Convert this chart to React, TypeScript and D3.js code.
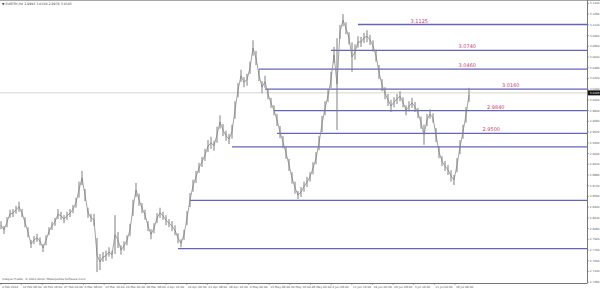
import React from "react";
import * as d3 from "d3";

// H4 bars sampled across the chart (high / low, EURTRY)
const highs = [
  2.819, 2.812, 2.825, 2.836, 2.837, 2.842, 2.848, 2.837, 2.825, 2.810,
  2.791, 2.797, 2.800, 2.795, 2.785, 2.798, 2.810, 2.818, 2.824, 2.837,
  2.833, 2.828, 2.833, 2.837, 2.843, 2.854, 2.878, 2.894, 2.867, 2.839,
  2.830, 2.830, 2.794, 2.770, 2.773, 2.775, 2.780, 2.775, 2.828, 2.803,
  2.783, 2.789, 2.798, 2.815, 2.851, 2.876, 2.860, 2.846, 2.836, 2.819,
  2.807, 2.816, 2.831, 2.839, 2.833, 2.828, 2.822, 2.819, 2.813, 2.801,
  2.792, 2.806, 2.834, 2.861, 2.881, 2.894, 2.906, 2.915, 2.927, 2.940,
  2.945, 2.939, 2.960, 2.977, 2.964, 2.954, 2.949, 2.963, 2.998, 3.025,
  3.045, 3.034, 3.039, 3.057, 3.089, 3.073, 3.046, 3.028, 3.036, 3.016,
  3.003, 2.992, 2.979, 2.961, 2.946, 2.930, 2.912, 2.892, 2.878, 2.864,
  2.870, 2.878, 2.885, 2.892, 2.907, 2.922, 2.946, 2.976, 2.998, 3.015,
  3.042, 3.079, 3.092, 3.112, 3.128, 3.116, 3.101, 3.086, 3.083, 3.095,
  3.094, 3.100, 3.104, 3.097, 3.089, 3.075, 3.052, 3.031, 3.019, 3.009,
  3.000, 3.004, 3.009, 3.013, 3.004, 2.992, 2.998, 3.003, 2.997, 2.988,
  2.975, 2.963, 2.979, 2.986, 2.980, 2.958, 2.931, 2.916, 2.909, 2.903,
  2.895, 2.888, 2.913, 2.940, 2.963, 2.989, 3.018,
];
const lows = [
  2.807, 2.800, 2.810, 2.824, 2.825, 2.830, 2.833, 2.825, 2.810, 2.795,
  2.779, 2.785, 2.788, 2.783, 2.773, 2.783, 2.798, 2.806, 2.812, 2.822,
  2.821, 2.816, 2.821, 2.825, 2.831, 2.839, 2.854, 2.873, 2.849, 2.824,
  2.818, 2.812, 2.743, 2.746, 2.758, 2.760, 2.766, 2.763, 2.770, 2.779,
  2.769, 2.775, 2.783, 2.797, 2.827, 2.855, 2.842, 2.831, 2.821, 2.804,
  2.792, 2.801, 2.816, 2.824, 2.821, 2.813, 2.810, 2.804, 2.798, 2.786,
  2.780, 2.791, 2.813, 2.840, 2.863, 2.876, 2.891, 2.900, 2.909, 2.922,
  2.927, 2.924, 2.936, 2.957, 2.946, 2.939, 2.934, 2.942, 2.972, 3.004,
  3.027, 3.019, 3.021, 3.039, 3.066, 3.052, 3.028, 3.010, 3.018, 3.001,
  2.988, 2.977, 2.961, 2.943, 2.928, 2.912, 2.894, 2.875, 2.860, 2.852,
  2.855, 2.863, 2.870, 2.878, 2.889, 2.904, 2.925, 2.952, 2.977, 2.997,
  3.018, 3.055, 2.955, 3.091, 3.110, 3.098, 3.083, 3.042, 3.060, 3.078,
  3.079, 3.085, 3.086, 3.082, 3.072, 3.057, 3.031, 3.013, 3.001, 2.991,
  2.982, 2.989, 2.994, 2.998, 2.989, 2.977, 2.983, 2.988, 2.982, 2.973,
  2.957, 2.933, 2.961, 2.972, 2.966, 2.937, 2.913, 2.901, 2.894, 2.888,
  2.878, 2.873, 2.892, 2.919, 2.942, 2.966, 2.997,
];

// Horizontal levels drawn on the chart
const levelValues = [3.1125, 3.074, 3.046, 3.016, 2.984, 2.95, 2.93, 2.85, 2.778];
const levelTexts = ["3.1125", "3.0740", "3.0460", "3.0160", "2.9840", "2.9500", "", "", ""];
const levelStartBar = [119, 110, 86, 88, 91, 92, 77, 63, 59];
const levelLabelBar = [136.5, 152.5, 152.5, 167, 162, 160.5, 0, 0, 0];

const lastPrice = 3.0105;
const headerText = "EURTRY,H4  2.9993 3.0160 2.9978 3.0105";
const copyrightText = "Integral Trader, \u00a9 2001-2014, MetaQuotes Software Corp.";

const yTicks = [
  2.728, 2.744, 2.76, 2.776, 2.792, 2.808, 2.824, 2.84, 2.856, 2.872, 2.888,
  2.904, 2.92, 2.936, 2.952, 2.968, 2.984, 3.0, 3.016, 3.032, 3.048, 3.064,
  3.08, 3.096, 3.112, 3.128, 3.144,
];
const xLabels = [
  "4 Feb 2014", "12 Feb 08:00", "19 Feb 16:00", "27 Feb 00:00", "6 Mar 08:00",
  "13 Mar 16:00", "20 Mar 00:00", "28 Mar 08:00", "4 Apr 16:00", "14 Apr 00:00",
  "21 Apr 08:00", "28 Apr 16:00", "6 May 00:00", "13 May 08:00", "20 May 16:00",
  "28 May 00:00", "4 Jun 08:00", "11 Jun 16:00", "19 Jun 00:00", "26 Jun 08:00",
  "3 Jul 16:00", "11 Jul 00:00", "18 Jul 08:00",
];

const W = 600;
const H = 289;
const plotRight = 587;
const plotBottom = 283;
const font = "DejaVu Sans, Verdana, sans-serif";

export default function App() {
  const x = d3.scaleLinear().domain([0, highs.length - 1]).range([1, 469]);
  const y = d3.scaleLinear().domain([2.7312, 3.1491]).range([280, 0]);
  const xl = d3.scaleLinear().domain([0, xLabels.length - 1]).range([1, 455]);

  const mids = highs.map((h, i) => (h + lows[i]) / 2);
  const midLine = d3
    .line<number>()
    .x((_, i) => x(i))
    .y((d) => y(d))(mids) as string;

  return (
    <div style={{ position: "fixed", left: 0, top: 0, width: W, height: H, background: "#fff" }}>
      <svg width={W} height={H} style={{ display: "block" }} fontFamily={font}>
        <rect x={0} y={0} width={W} height={H} fill="#fff" />
        {/* top border */}
        <line x1={0} x2={W} y1={0.5} y2={0.5} stroke="#a8a8a8" strokeWidth={1} />
        {/* bid line */}
        <line x1={0} x2={plotRight} y1={y(lastPrice)} y2={y(lastPrice)} stroke="#d4d4d4" strokeWidth={1} />

        {/* levels */}
        {levelValues.map((v, i) => (
          <line
            key={"lv" + i}
            x1={x(levelStartBar[i])}
            x2={plotRight}
            y1={y(v)}
            y2={y(v)}
            stroke="#6464bc"
            strokeWidth={1.3}
          />
        ))}

        {/* price bars */}
        <path d={midLine} fill="none" stroke="#8a8a8a" strokeWidth={0.8} />
        {highs.map((h, i) => (
          <line
            key={"b" + i}
            x1={x(i)}
            x2={x(i)}
            y1={y(h)}
            y2={y(lows[i])}
            stroke="#7e7e7e"
            strokeWidth={1}
          />
        ))}

        {/* level labels */}
        {levelTexts.map((t, i) =>
          t ? (
            <text
              key={"lt" + i}
              x={x(levelLabelBar[i])}
              y={y(levelValues[i]) - 2}
              fontSize={5}
              fill="#c8406e"
            >
              {t}
            </text>
          ) : null
        )}

        {/* axes frame */}
        <line x1={plotRight + 0.5} x2={plotRight + 0.5} y1={0} y2={plotBottom} stroke="#777" strokeWidth={1} />
        <line x1={0} x2={plotRight + 0.5} y1={plotBottom + 0.5} y2={plotBottom + 0.5} stroke="#777" strokeWidth={1} />

        {yTicks.map((t, i) => (
          <g key={"yt" + i}>
            <line x1={plotRight} x2={plotRight + 2} y1={y(t)} y2={y(t)} stroke="#777" strokeWidth={0.6} />
            <text
              x={plotRight + 2.8}
              y={y(t) + 1}
              fontSize={2.9}
              fill="#555"
              textLength={9.6}
              lengthAdjust="spacingAndGlyphs"
            >
              {t.toFixed(4)}
            </text>
          </g>
        ))}

        {/* current price box */}
        <rect x={plotRight + 1} y={y(lastPrice) - 2.5} width={13} height={5} fill="#111" />
        <text
          x={plotRight + 2.8}
          y={y(lastPrice) + 1}
          fontSize={2.9}
          fill="#fff"
          textLength={9.6}
          lengthAdjust="spacingAndGlyphs"
        >
          {lastPrice.toFixed(4)}
        </text>

        {xLabels.map((t, i) => (
          <g key={"xt" + i}>
            <line x1={xl(i)} x2={xl(i)} y1={plotBottom} y2={plotBottom + 2} stroke="#777" strokeWidth={0.6} />
            <text x={xl(i) + 1} y={plotBottom + 4.8} fontSize={2.9} fill="#555">
              {t}
            </text>
          </g>
        ))}

        <text x={2} y={4.8} fontSize={3.2} fill="#444">
          {"\u25BC " + headerText}
        </text>
        <text x={2} y={280} fontSize={2.9} fill="#555">
          {copyrightText}
        </text>
      </svg>
    </div>
  );
}
